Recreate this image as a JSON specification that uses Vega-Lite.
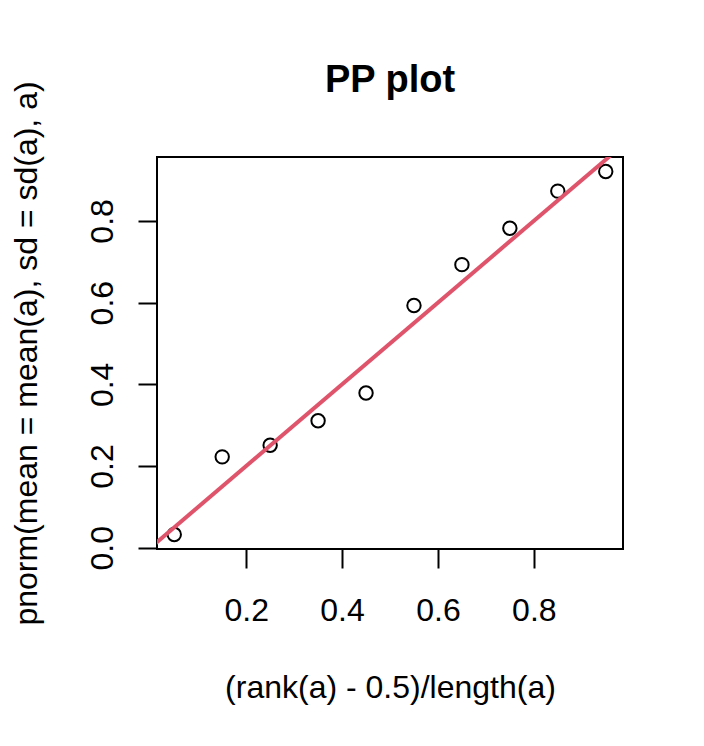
{
  "$schema": "https://vega.github.io/schema/vega-lite/v6.json",
  "width": 466,
  "height": 392,
  "autosize": {"type": "none"},
  "padding": {"left": 157, "top": 157, "right": 81, "bottom": 197},
  "background": "white",
  "config": {
    "font": "Liberation Sans",
    "view": {"stroke": "black", "strokeWidth": 2},
    "axis": {
      "grid": false,
      "domain": false,
      "ticks": true,
      "tickColor": "black",
      "tickWidth": 2,
      "tickSize": 19,
      "labelFont": "Liberation Sans",
      "labelFontSize": 32,
      "labelColor": "black",
      "titleFont": "Liberation Sans",
      "titleFontSize": 32,
      "titleFontWeight": "normal",
      "titleColor": "black"
    }
  },
  "title": {
    "text": "PP plot",
    "font": "Liberation Sans",
    "fontSize": 38,
    "fontWeight": "bold",
    "color": "black",
    "anchor": "middle",
    "frame": "group",
    "baseline": "alphabetic",
    "offset": 65,
    "dy": 114
  },
  "layer": [
    {
      "data": {
        "values": [
          {"x": 0.05, "y": 0.0325},
          {"x": 0.15, "y": 0.2225},
          {"x": 0.25, "y": 0.251},
          {"x": 0.35, "y": 0.311},
          {"x": 0.45, "y": 0.379},
          {"x": 0.55, "y": 0.593},
          {"x": 0.65, "y": 0.693},
          {"x": 0.75, "y": 0.782},
          {"x": 0.85, "y": 0.873},
          {"x": 0.95, "y": 0.921}
        ]
      },
      "mark": {"type": "point", "shape": "circle", "filled": false, "stroke": "black", "strokeWidth": 2, "size": 180, "opacity": 1},
      "encoding": {
        "x": {
          "field": "x", "type": "quantitative",
          "scale": {"domain": [0.014, 0.986], "nice": false, "zero": false},
          "axis": {
            "values": [0.2, 0.4, 0.6, 0.8],
            "format": ".1f",
            "labelBaseline": "alphabetic",
            "labelPadding": 52,
            "title": "(rank(a) - 0.5)/length(a)",
            "titleBaseline": "alphabetic",
            "titleX": 233,
            "titleY": 148,
            "titleAnchor": "middle"
          }
        },
        "y": {
          "field": "y", "type": "quantitative",
          "scale": {"domain": [-0.003, 0.9565], "nice": false, "zero": false},
          "axis": {
            "values": [0, 0.2, 0.4, 0.6, 0.8],
            "format": ".1f",
            "labelAngle": 270,
            "labelAlign": "center",
            "labelBaseline": "alphabetic",
            "labelPadding": 26,
            "title": "pnorm(mean = mean(a), sd = sd(a), a)",
            "titleAngle": 270,
            "titleBaseline": "alphabetic",
            "titleAlign": "center",
            "titleX": -121,
            "titleY": 196
          }
        }
      }
    },
    {
      "data": {"values": [{"x": 0, "y": 0}, {"x": 1, "y": 1}]},
      "mark": {"type": "line", "color": "#DF536B", "strokeWidth": 4, "clip": true},
      "encoding": {
        "x": {"field": "x", "type": "quantitative"},
        "y": {"field": "y", "type": "quantitative"}
      }
    }
  ]
}
